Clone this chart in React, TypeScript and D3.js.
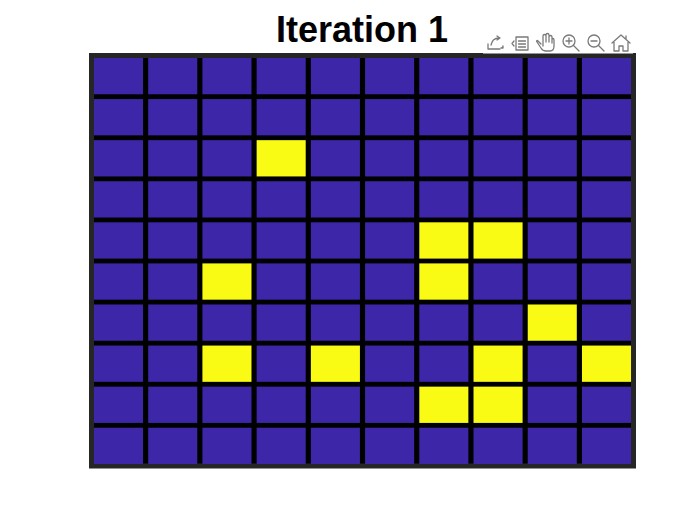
import React from 'react';
import * as d3 from 'd3';

// grid labels and cell states (1 = alive / yellow, 0 = empty / blue)
const rowIds = ['r1', 'r2', 'r3', 'r4', 'r5', 'r6', 'r7', 'r8', 'r9', 'r10'];
const colIds = ['c1', 'c2', 'c3', 'c4', 'c5', 'c6', 'c7', 'c8', 'c9', 'c10'];
const row1 = [0, 0, 0, 0, 0, 0, 0, 0, 0, 0];
const row2 = [0, 0, 0, 0, 0, 0, 0, 0, 0, 0];
const row3 = [0, 0, 0, 1, 0, 0, 0, 0, 0, 0];
const row4 = [0, 0, 0, 0, 0, 0, 0, 0, 0, 0];
const row5 = [0, 0, 0, 0, 0, 0, 1, 1, 0, 0];
const row6 = [0, 0, 1, 0, 0, 0, 1, 0, 0, 0];
const row7 = [0, 0, 0, 0, 0, 0, 0, 0, 1, 0];
const row8 = [0, 0, 1, 0, 1, 0, 0, 1, 0, 1];
const row9 = [0, 0, 0, 0, 0, 0, 1, 1, 0, 0];
const row10 = [0, 0, 0, 0, 0, 0, 0, 0, 0, 0];
const title = 'Iteration 1';

const grid = [row1, row2, row3, row4, row5, row6, row7, row8, row9, row10];

export default function App() {
    const width = 700;
    const height = 525;

    const x = d3
        .scaleBand<string>()
        .domain(colIds)
        .range([91.4, 633.6])
        .paddingInner(0.095)
        .paddingOuter(0.0475);
    const y = d3
        .scaleBand<string>()
        .domain(rowIds)
        .range([55.6, 466.4])
        .paddingInner(0.117)
        .paddingOuter(0.0585);
    const color = d3.scaleOrdinal<number, string>().domain([0, 1]).range(['#3e26a8', '#f9fb15']);

    const cells = grid.flatMap((row, i) =>
        row.map((v, j) => ({ r: rowIds[i], c: colIds[j], v }))
    );

    const ic = '#7a7a7a';

    return (
        <svg
            width={width}
            height={height}
            style={{ position: 'absolute', left: 0, top: 0, background: '#fff' }}
        >
            {/* axes box */}
            <rect x={91.5} y={55.5} width={542} height={410.5} fill="#000" stroke="#262626" strokeWidth={5} />
            {cells.map((d) => (
                <rect
                    key={d.r + d.c}
                    x={x(d.c)}
                    y={y(d.r)}
                    width={x.bandwidth()}
                    height={y.bandwidth()}
                    fill={color(d.v)}
                />
            ))}

            <text
                x={362}
                y={42}
                textAnchor="middle"
                fontFamily="Liberation Sans, Arial, sans-serif"
                fontWeight="bold"
                fontSize={36}
                fill="#000"
            >
                {title}
            </text>

            {/* toolbar */}
            <rect x={483} y={30} width={150} height={23.5} fill="#fff" />
            <g fill="none" stroke={ic} strokeWidth={1.3} strokeLinecap="round" strokeLinejoin="round">
                {/* export */}
                <path d="M488,49 L488,44 M488,49 L500,49 M491,45 C492,40 495,38 499,38 M497,36 L500,38 L497,40" />
                <path d="M501,48 L503,48 L503,46" fill={ic} />
                {/* data tips */}
                <path d="M516,37 L528,37 L528,50 L516,50 Z M514,41 L512,43.5 L514,46 M518.5,41 L525.5,41 M518.5,44 L525.5,44 M518.5,47 L525.5,47" />
                {/* pan hand */}
                <path d="M541,44 L538,41 C537,40 536,41 537,42 L541,48 C542,50 544,51 546,51 L550,51 C553,51 554,49 554,46 L554,40 C554,38 552,38 552,40 L552,43 M552,42 L552,37 C552,35 549,35 549,37 L549,42 M549,37 L549,35 C549,33 546,33 546,35 L546,42 M546,36 C546,34 543,34 543,36 L543,46" />
                {/* zoom in */}
                <circle cx={569} cy={41} r={6} />
                <path d="M573.5,45.5 L579,51 M566,41 L572,41 M569,38 L569,44" />
                {/* zoom out */}
                <circle cx={594} cy={41} r={6} />
                <path d="M598.5,45.5 L604,51 M591,41 L597,41" />
                {/* home */}
                <path d="M612,43 L621,35 L630,43 M614,42 L614,51 L619,51 L619,46 L623,46 L623,51 L628,51 L628,42 M626,39 L626,36" />
            </g>
        </svg>
    );
}
